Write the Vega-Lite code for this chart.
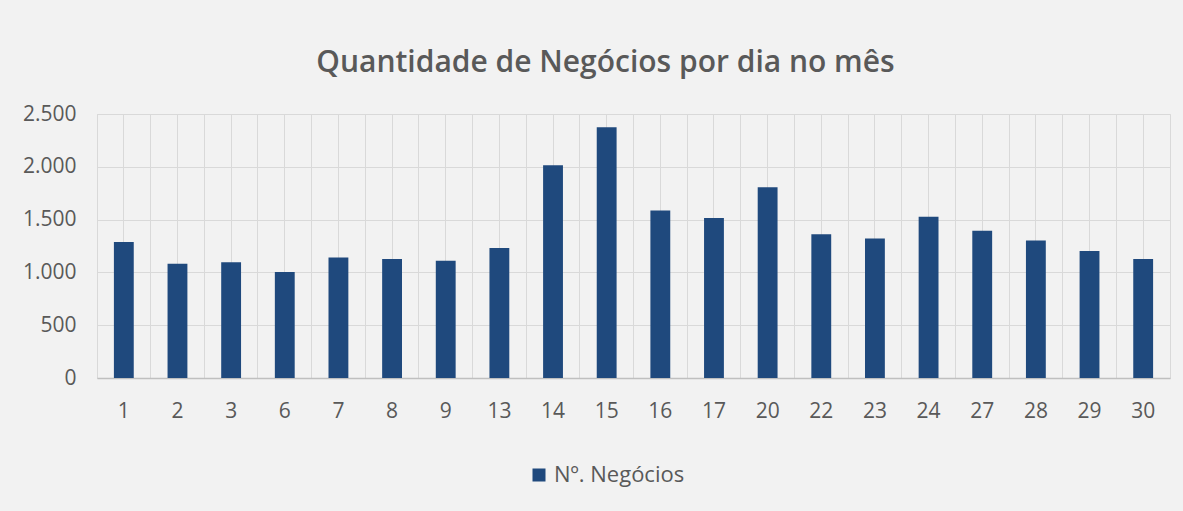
{
  "$schema": "https://vega.github.io/schema/vega-lite/v6.json",
  "width": 1073,
  "height": 264,
  "autosize": "none",
  "padding": {"left": 97, "top": 114, "right": 13, "bottom": 133},
  "background": "#f2f2f2",
  "title": {
    "text": "Quantidade de Negócios por dia no mês",
    "font": "Open Sans",
    "fontSize": 30,
    "fontWeight": 600,
    "color": "#595959",
    "anchor": "middle",
    "dx": -28,
    "offset": 25
  },
  "data": {
    "values": [
      {"dia": "1", "negocios": 1287},
      {"dia": "2", "negocios": 1081},
      {"dia": "3", "negocios": 1097},
      {"dia": "6", "negocios": 1003},
      {"dia": "7", "negocios": 1141},
      {"dia": "8", "negocios": 1126},
      {"dia": "9", "negocios": 1110},
      {"dia": "13", "negocios": 1230},
      {"dia": "14", "negocios": 2015},
      {"dia": "15", "negocios": 2375},
      {"dia": "16", "negocios": 1586},
      {"dia": "17", "negocios": 1514},
      {"dia": "20", "negocios": 1807},
      {"dia": "22", "negocios": 1362},
      {"dia": "23", "negocios": 1321},
      {"dia": "24", "negocios": 1526},
      {"dia": "27", "negocios": 1394},
      {"dia": "28", "negocios": 1302},
      {"dia": "29", "negocios": 1202},
      {"dia": "30", "negocios": 1126}
    ]
  },
  "layer": [
    {
      "mark": {"type": "bar", "opacity": 0},
      "encoding": {
        "x": {
          "field": "dia", "type": "ordinal", "sort": null,
          "scale": {"paddingInner": 0, "paddingOuter": 0},
          "axis": {
            "orient": "top", "title": null, "labels": false, "ticks": false,
            "domain": false, "grid": true, "bandPosition": 0,
            "gridColor": "#d9d9d9", "gridWidth": 1
          }
        },
        "y": {"field": "negocios", "type": "quantitative"}
      }
    },
    {
      "mark": {"type": "bar", "width": {"band": 0.37}},
      "encoding": {
        "x": {
          "field": "dia", "type": "ordinal", "sort": null,
          "axis": {
            "orient": "bottom", "title": null, "labelAngle": 0,
            "labelFont": "Open Sans", "labelFontSize": 21, "labelColor": "#595959",
            "labelPadding": 22, "ticks": false,
            "domain": true, "domainColor": "#bfbfbf", "domainWidth": 1.5,
            "grid": true, "gridColor": "#d9d9d9", "gridWidth": 1
          }
        },
        "y": {
          "field": "negocios", "type": "quantitative",
          "scale": {"domain": [0, 2500], "nice": false},
          "axis": {
            "title": null, "values": [0, 500, 1000, 1500, 2000, 2500],
            "labelExpr": "replace(format(datum.value, ','), ',', '.')",
            "labelFont": "Open Sans", "labelFontSize": 21, "labelColor": "#595959",
            "labelPadding": 21, "ticks": false, "domain": false,
            "grid": true, "gridColor": "#d9d9d9", "gridWidth": 1
          }
        },
        "color": {
          "datum": "Nº. Negócios",
          "type": "nominal",
          "scale": {"range": ["#1f497d"]},
          "legend": {
            "title": null,
            "orient": "none",
            "legendX": 431,
            "legendY": 350,
            "symbolType": "square",
            "symbolSize": 169,
            "labelFont": "Open Sans",
            "labelFontSize": 22,
            "labelColor": "#595959"
          }
        }
      }
    }
  ],
  "resolve": {"axis": {"x": "independent"}},
  "config": {
    "view": {"stroke": "#d9d9d9", "strokeWidth": 1}
  }
}
